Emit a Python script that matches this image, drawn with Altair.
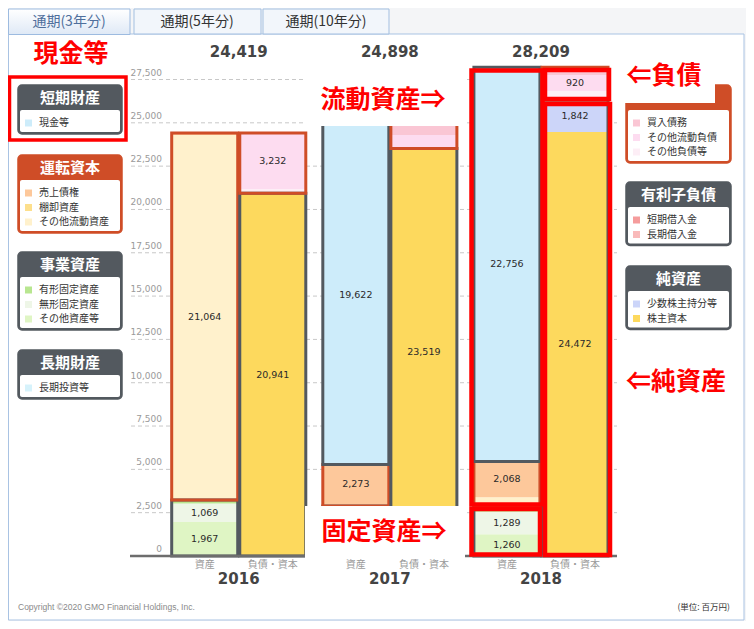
import altair as alt
import pandas as pd

# ---------------- data ----------------
years = ["2016", "2017", "2018"]
totals = [24419, 24898, 28209]
sides = ["資産", "負債・資本"]

asset_items = ["長期投資等", "その他資産等", "無形固定資産", "有形固定資産",
               "その他流動資産", "棚卸資産", "売上債権", "現金等"]
asset_groups = ["長期財産", "事業資産", "事業資産", "事業資産",
                "運転資本", "運転資本", "運転資本", "短期財産"]
asset_2016 = [0, 1967, 1069, 197, 21064, 0, 122, 0]
asset_2017 = [0, 1607, 1180, 100, 116, 0, 2273, 19622]
asset_2018 = [0, 1260, 1289, 276, 560, 0, 2068, 22756]

liab_items = ["株主資本", "少数株主持分等", "長期借入金", "短期借入金",
              "その他負債等", "その他流動負債", "買入債務"]
liab_groups = ["純資産", "純資産", "有利子負債", "有利子負債",
               "運転負債", "運転負債", "運転負債"]
liab_2016 = [20941, 0, 0, 0, 246, 3232, 0]
liab_2017 = [23519, 0, 0, 0, 0, 779, 600]
liab_2018 = [24472, 1842, 0, 0, 525, 920, 450]

y_ticks = [0, 2500, 5000, 7500, 10000, 12500, 15000, 17500, 20000, 22500, 25000, 27500]

tab_labels = ["通期(3年分)", "通期(5年分)", "通期(10年分)"]

left_legends = [
    ("短期財産", ["現金等"]),
    ("運転資本", ["売上債権", "棚卸資産", "その他流動資産"]),
    ("事業資産", ["有形固定資産", "無形固定資産", "その他資産等"]),
    ("長期財産", ["長期投資等"]),
]
right_legends = [
    ("運転負債", ["買入債務", "その他流動負債", "その他負債等"]),
    ("有利子負債", ["短期借入金", "長期借入金"]),
    ("純資産", ["少数株主持分等", "株主資本"]),
]
# legend titles and bar segments that the reference covers with white note boxes
covered_titles = ["運転負債"]
covered_segments = [("2017", "事業資産")]

notes_text = ["現金等", "流動資産⇒", "固定資産⇒", "⇐負債", "⇐純資産"]
copyright_text = "Copyright ©2020 GMO Financial Holdings, Inc."
unit_text = "(単位: 百万円)"

# ---------------- styles ----------------
item_colors = {
    "現金等": "#cdecfa", "売上債権": "#fdc89b", "棚卸資産": "#fddf8c",
    "その他流動資産": "#fff1cc", "有形固定資産": "#b8e690", "無形固定資産": "#eef6e7",
    "その他資産等": "#dff5c4", "長期投資等": "#d6f2fb", "買入債務": "#fac6d4",
    "その他流動負債": "#fddcf0", "その他負債等": "#fdeef6", "短期借入金": "#f59c9c",
    "長期借入金": "#f9baba", "少数株主持分等": "#ccd5f9", "株主資本": "#fdd95d",
}
DARK = "#53595f"
ORANGE = "#cf4d27"
group_colors = {"短期財産": DARK, "運転資本": ORANGE, "事業資産": DARK, "長期財産": DARK,
                "運転負債": ORANGE, "有利子負債": DARK, "純資産": DARK}
FONT = "Noto Sans CJK JP"
RED = "#ff0000"

# ---------------- tables ----------------
rows = []
for yr, av, lv in zip(years, [asset_2016, asset_2017, asset_2018],
                      [liab_2016, liab_2017, liab_2018]):
    for side, items, groups, vals in [(sides[0], asset_items, asset_groups, av),
                                      (sides[1], liab_items, liab_groups, lv)]:
        cum = 0
        for it, g, v in zip(items, groups, vals):
            if v > 0:
                shown = v >= 900 and (yr, g) not in covered_segments
                rows.append(dict(year=yr, side=side, item=it, group=g, start=cum,
                                 end=cum + v, mid=cum + v / 2, value=v,
                                 color=item_colors[it],
                                 label=f"{v:,}" if shown else ""))
            cum += v
seg = pd.DataFrame(rows)
grp = (seg.groupby(["year", "side", "group"], sort=False)
       .agg(start=("start", "min"), end=("end", "max")).reset_index())
grp["stroke"] = grp["group"].map(group_colors)
tot = pd.DataFrame({"year": years, "total": totals})
side_df = pd.DataFrame([{"year": y, "side": s} for y in years for s in sides])
ticks_df = pd.DataFrame({"v": y_ticks})

# ---------------- scales ----------------
xs = alt.Scale(domain=years, range=[163.7, 600], paddingInner=0.1126, paddingOuter=0)
xo = alt.Scale(domain=sides, paddingInner=0.03, paddingOuter=0)
ys = alt.Scale(domain=[0, 27500], range=[548, 71.5], nice=False, zero=False)
X = alt.X("year:N", scale=xs, axis=None)
XO = alt.XOffset("side:N", scale=xo)


def pxrect(df, **kw):
    return alt.Chart(df).mark_rect(**kw).encode(
        x=alt.X("x:Q", scale=None, axis=None), x2="x2:Q",
        y=alt.Y("y:Q", scale=None, axis=None), y2="y2:Q")


def pxtext(df, **kw):
    return alt.Chart(df).mark_text(**kw).encode(
        x=alt.X("x:Q", scale=None, axis=None),
        y=alt.Y("y:Q", scale=None, axis=None), text="t:N")


layers = []

# panel and tabs
layers.append(pxrect(pd.DataFrame([dict(x=0.5, x2=736, y=26, y2=612)]),
                     fill="white", stroke="#a9c3e3", strokeWidth=1))
layers.append(pxrect(pd.DataFrame([dict(x=126, x2=253, y=1, y2=26), dict(x=255, x2=381, y=1, y2=26)]),
                     fill="#f2f6fb", stroke="#a3bfe0", strokeWidth=1))
layers.append(pxrect(pd.DataFrame([dict(x=0.5, x2=122, y=1, y2=26.5)]),
                     fill=alt.LinearGradient(gradient="linear",
                                             stops=[alt.GradientStop(color="#ffffff", offset=0),
                                                    alt.GradientStop(color="#dfe9f6", offset=1)],
                                             x1=0, x2=0, y1=0, y2=1),
                     stroke="#9dbbe0", strokeWidth=1))
layers.append(pxtext(pd.DataFrame([dict(x=61, y=14, t=tab_labels[0])]),
                     font=FONT, fontSize=14, color="#4f6f9c"))
layers.append(pxtext(pd.DataFrame([dict(x=189, y=14, t=tab_labels[1]), dict(x=318, y=14, t=tab_labels[2])]),
                     font=FONT, fontSize=14, color="#333333"))

# gridlines and y labels
layers.append(alt.Chart(ticks_df[ticks_df.v > 0]).mark_rule(color="#c8c8c8", strokeDash=[4, 3], strokeWidth=1)
              .encode(y=alt.Y("v:Q", scale=ys, axis=None), x=alt.value(123), x2=alt.value(609)))
layers.append(alt.Chart(ticks_df).mark_text(align="right", baseline="middle", dy=-7, fontSize=9,
                                            color="#9a9a9a", font="DejaVu Sans")
              .encode(y=alt.Y("v:Q", scale=ys, axis=None), x=alt.value(154),
                      text=alt.Text("v:Q", format=",")))

# bars
layers.append(alt.Chart(seg).mark_bar(strokeWidth=0).encode(
    x=X, xOffset=XO, y=alt.Y("start:Q", scale=ys, axis=None), y2="end:Q",
    color=alt.Color("color:N", scale=None)))
layers.append(alt.Chart(grp).mark_bar(filled=False, strokeWidth=3).encode(
    x=X, xOffset=XO, y=alt.Y("start:Q", scale=ys, axis=None), y2="end:Q",
    color=alt.Color("stroke:N", scale=None)))
layers.append(alt.Chart(seg[seg.label != ""]).mark_text(fontSize=9.5, color="#2a2a2a", font="DejaVu Sans")
              .encode(x=X, xOffset=XO, y=alt.Y("mid:Q", scale=ys, axis=None), text="label:N"))
layers.append(alt.Chart(ticks_df[ticks_df.v == 0]).mark_rule(color="#6d6d6d", strokeWidth=2.5)
              .encode(y=alt.Y("v:Q", scale=ys, axis=None), x=alt.value(122), x2=alt.value(609)))

# totals / categories / years
layers.append(alt.Chart(tot).mark_text(fontSize=15, fontWeight="bold", color="#444444", font="DejaVu Sans")
              .encode(x=X, y=alt.value(44), text=alt.Text("total:Q", format=",")))
layers.append(alt.Chart(side_df).mark_text(fontSize=10, color="#9a9a9a", font=FONT)
              .encode(x=X, xOffset=XO, y=alt.value(557), text="side:N"))
layers.append(alt.Chart(tot).mark_text(fontSize=15, fontWeight="bold", color="#444444", font="DejaVu Sans")
              .encode(x=X, y=alt.value(571), text="year:N"))

# legend boxes
STEP = 14.5
box_rows, body_rows, head_rows, sq_rows, it_rows = [], [], [], [], []
for (x0, x1, tops, specs) in [(10, 114, [77, 147, 244, 342], left_legends),
                              (618, 723, [77, 174, 258], right_legends)]:
    for top, (title, items) in zip(tops, specs):
        hb = top + 25
        bottom = hb + 13 + STEP * (len(items) - 1) + 11
        col = group_colors[title]
        box_rows.append(dict(x=x0, x2=x1, y=top, y2=bottom, c=col))
        body_rows.append(dict(x=x0 + 2, x2=x1 - 2, y=hb, y2=bottom - 2))
        if title not in covered_titles:
            head_rows.append(dict(x=(x0 + x1) / 2, y=(top + hb) / 2 + 0.5, t=title))
        for k, it in enumerate(items):
            yy = hb + 13 + STEP * k
            sq_rows.append(dict(x=x0 + 7, x2=x0 + 14, y=yy - 3.5, y2=yy + 3.5, c=item_colors[it]))
            it_rows.append(dict(x=x0 + 21, y=yy, t=it))
layers.append(pxrect(pd.DataFrame(box_rows), cornerRadius=4, strokeWidth=1.5).encode(
    fill=alt.Fill("c:N", scale=None), stroke=alt.Stroke("c:N", scale=None)))
layers.append(pxrect(pd.DataFrame(body_rows), fill="white", cornerRadius=2))
layers.append(pxtext(pd.DataFrame(head_rows), font=FONT, fontSize=15, fontWeight="bold", color="white"))
layers.append(pxrect(pd.DataFrame(sq_rows)).encode(fill=alt.Fill("c:N", scale=None)))
layers.append(pxtext(pd.DataFrame(it_rows), font=FONT, fontSize=10, color="#333333", align="left"))

# annotations
layers.append(pxrect(pd.DataFrame([dict(x=298, x2=457, y=65, y2=118), dict(x=297, x2=457, y=498, y2=550),
                                   dict(x=602, x2=707, y=47, y2=95)]), fill="white"))
layers.append(pxrect(pd.DataFrame([dict(x=1.5, x2=118, y=69, y2=132)]), fillOpacity=0,
                     stroke=RED, strokeWidth=3.5))
layers.append(pxrect(pd.DataFrame([dict(x=463.5, x2=534.5, y=62.5, y2=496.5),
                                   dict(x=463.5, x2=532, y=501, y2=546.5),
                                   dict(x=537, x2=601, y=62, y2=91),
                                   dict(x=537, x2=602, y=96, y2=547)]),
                     fillOpacity=0, stroke=RED, strokeWidth=4.5))
layers.append(pxtext(pd.DataFrame([dict(x=63, y=46, t=notes_text[0]), dict(x=375, y=92, t=notes_text[1]),
                                   dict(x=376, y=524, t=notes_text[2]), dict(x=656, y=68, t=notes_text[3]),
                                   dict(x=668, y=374, t=notes_text[4])]),
                     font=FONT, fontSize=25, fontWeight="bold", color=RED))

# footer
layers.append(pxtext(pd.DataFrame([dict(x=10, y=599, t=copyright_text)]),
                     font="Liberation Sans", fontSize=8.5, color="#8a8a8a", align="left"))
layers.append(pxtext(pd.DataFrame([dict(x=722, y=599, t=unit_text)]),
                     font=FONT, fontSize=8.5, color="#333333", align="right"))

chart = (alt.layer(*layers)
         .properties(width=738, height=613, autosize=alt.AutoSizeParams(type="none"),
                     padding=0, background="#f4f5f7")
         .configure_view(strokeWidth=0))

chart.save("out.html", embed_options={"renderer": "svg", "actions": False})
